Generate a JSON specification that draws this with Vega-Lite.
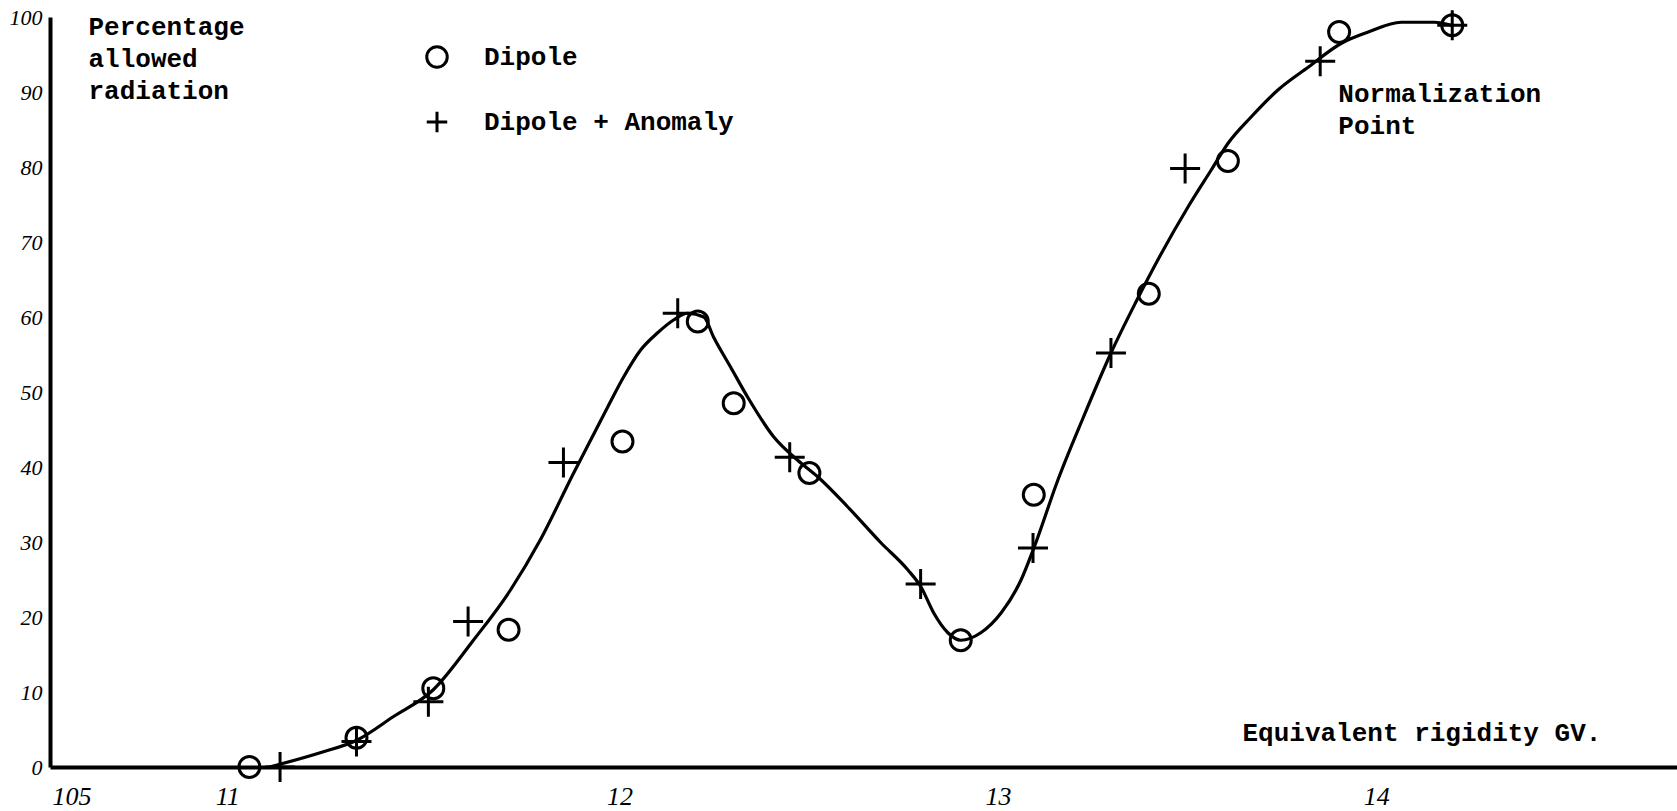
{
  "$schema": "https://vega.github.io/schema/vega-lite/v6.json",
  "width": 1627,
  "height": 750,
  "autosize": {"type": "none"},
  "padding": {"left": 50, "top": 17, "right": 0, "bottom": 44},
  "background": "white",
  "config": {
    "view": {"stroke": null},
    "font": "Liberation Mono"
  },
  "datasets": {
    "curve": [
      {"x": 11.08, "y": 0},
      {"x": 11.214, "y": 1.9},
      {"x": 11.312, "y": 3.6},
      {"x": 11.407, "y": 6.7},
      {"x": 11.513, "y": 10.3},
      {"x": 11.619, "y": 16.9},
      {"x": 11.717, "y": 23.6},
      {"x": 11.796, "y": 30.3},
      {"x": 11.884, "y": 39.2},
      {"x": 11.929, "y": 43.6},
      {"x": 11.974, "y": 48.0},
      {"x": 12.016, "y": 52.0},
      {"x": 12.061, "y": 55.6},
      {"x": 12.106, "y": 57.9},
      {"x": 12.148, "y": 59.6},
      {"x": 12.185, "y": 60.5},
      {"x": 12.228, "y": 60.0},
      {"x": 12.254, "y": 57.3},
      {"x": 12.299, "y": 53.3},
      {"x": 12.344, "y": 49.3},
      {"x": 12.413, "y": 44.0},
      {"x": 12.476, "y": 40.9},
      {"x": 12.529, "y": 38.7},
      {"x": 12.608, "y": 34.7},
      {"x": 12.696, "y": 29.9},
      {"x": 12.767, "y": 26.3},
      {"x": 12.802, "y": 24.0},
      {"x": 12.836, "y": 20.5},
      {"x": 12.873, "y": 17.9},
      {"x": 12.907, "y": 16.9},
      {"x": 12.96, "y": 17.9},
      {"x": 13.013, "y": 20.5},
      {"x": 13.066, "y": 24.9},
      {"x": 13.101, "y": 29.3},
      {"x": 13.164, "y": 38.3},
      {"x": 13.23, "y": 46.5},
      {"x": 13.304, "y": 55.2},
      {"x": 13.37, "y": 62.0},
      {"x": 13.431, "y": 67.9},
      {"x": 13.508, "y": 74.7},
      {"x": 13.569, "y": 79.6},
      {"x": 13.614, "y": 83.2},
      {"x": 13.675, "y": 86.7},
      {"x": 13.746, "y": 90.3},
      {"x": 13.825, "y": 93.3},
      {"x": 13.913, "y": 96.5},
      {"x": 13.984, "y": 98.0},
      {"x": 14.071, "y": 99.3},
      {"x": 14.159, "y": 99.3},
      {"x": 14.204, "y": 98.9}
    ],
    "points": [
      {"series": "Dipole", "x": 11.027, "y": 0},
      {"series": "Dipole", "x": 11.31, "y": 3.9},
      {"series": "Dipole", "x": 11.513, "y": 10.5},
      {"series": "Dipole", "x": 11.712, "y": 18.3},
      {"series": "Dipole", "x": 12.013, "y": 43.4},
      {"series": "Dipole", "x": 12.212, "y": 59.4},
      {"series": "Dipole", "x": 12.307, "y": 48.5},
      {"series": "Dipole", "x": 12.507, "y": 39.2},
      {"series": "Dipole", "x": 12.907, "y": 16.9},
      {"series": "Dipole", "x": 13.1, "y": 36.3},
      {"series": "Dipole", "x": 13.404, "y": 63.1},
      {"series": "Dipole", "x": 13.613, "y": 80.8},
      {"series": "Dipole", "x": 13.907, "y": 98.0},
      {"series": "Dipole", "x": 14.206, "y": 98.9},
      {"series": "Dipole + Anomaly", "x": 11.108, "y": 0},
      {"series": "Dipole + Anomaly", "x": 11.31, "y": 3.4},
      {"series": "Dipole + Anomaly", "x": 11.5, "y": 8.7},
      {"series": "Dipole + Anomaly", "x": 11.605, "y": 19.4},
      {"series": "Dipole + Anomaly", "x": 11.857, "y": 40.6},
      {"series": "Dipole + Anomaly", "x": 12.159, "y": 60.5},
      {"series": "Dipole + Anomaly", "x": 12.455, "y": 41.3},
      {"series": "Dipole + Anomaly", "x": 12.801, "y": 24.4},
      {"series": "Dipole + Anomaly", "x": 13.098, "y": 29.2},
      {"series": "Dipole + Anomaly", "x": 13.304, "y": 55.2},
      {"series": "Dipole + Anomaly", "x": 13.5, "y": 79.8},
      {"series": "Dipole + Anomaly", "x": 13.857, "y": 94.1},
      {"series": "Dipole + Anomaly", "x": 14.206, "y": 98.9}
    ],
    "yTicks": [
      {"v": 10}, {"v": 20}, {"v": 30}, {"v": 40}, {"v": 50},
      {"v": 60}, {"v": 70}, {"v": 80}, {"v": 90}, {"v": 100}
    ],
    "xTicks": [
      {"v": 12}, {"v": 13}, {"v": 14}
    ],
    "notes": [
      {"note": "Normalization\nPoint", "x": 13.905, "y": 91.5}
    ]
  },
  "encoding": {
    "x": {
      "field": "x",
      "type": "quantitative",
      "scale": {"domain": [10.5, 14.8], "nice": false, "zero": false},
      "axis": {
        "values": [10.5, 11, 12, 13, 14],
        "labelExpr": "datum.value == 10.5 ? '105' : format(datum.value, 'd')",
        "grid": false,
        "ticks": false,
        "domainColor": "black",
        "domainWidth": 4,
        "labelFont": "Liberation Serif",
        "labelFontStyle": "italic",
        "labelFontSize": 26,
        "labelColor": "black",
        "labelPadding": 16,
        "labelFlush": false,
        "labelOverlap": false,
        "labelBound": false,
        "labelAlign": {"condition": {"test": "datum.value == 10.5", "value": "left"}, "value": "center"},
        "labelOffset": {"condition": {"test": "datum.value == 11", "value": -12}, "value": 2},
        "title": "Equivalent rigidity GV.",
        "titleFont": "Liberation Mono",
        "titleFontSize": 26,
        "titleFontWeight": "bold",
        "titleColor": "black",
        "titleAlign": "left",
        "titleBaseline": "middle",
        "titleX": 1192,
        "titleY": -35
      }
    },
    "y": {
      "field": "y",
      "type": "quantitative",
      "scale": {"domain": [0, 100], "nice": false},
      "axis": {
        "values": [0, 10, 20, 30, 40, 50, 60, 70, 80, 90, 100],
        "grid": false,
        "ticks": false,
        "domainColor": "black",
        "domainWidth": 4,
        "labelFont": "Liberation Serif",
        "labelFontStyle": "italic",
        "labelFontSize": 22,
        "labelColor": "black",
        "labelPadding": 8,
        "labelFlush": false,
        "labelOverlap": false,
        "labelBound": false,
        "title": ["Percentage", "allowed", "radiation"],
        "titleFont": "Liberation Mono",
        "titleFontSize": 26,
        "titleFontWeight": "bold",
        "titleColor": "black",
        "titleAngle": 0,
        "titleAlign": "left",
        "titleBaseline": "top",
        "titleLineHeight": 32,
        "titleX": 38,
        "titleY": -4
      }
    }
  },
  "layer": [
    {
      "data": {"name": "yTicks"},
      "mark": {"type": "rule", "color": "black", "strokeWidth": 3.5},
      "encoding": {
        "y": {"field": "v", "type": "quantitative"},
        "x": {"datum": 10.5},
        "x2": {"datum": 10.5423}
      }
    },
    {
      "data": {"name": "xTicks"},
      "mark": {"type": "rule", "color": "black", "strokeWidth": 3},
      "encoding": {
        "x": {"field": "v", "type": "quantitative"},
        "y": {"datum": 0},
        "y2": {"datum": 2.3}
      }
    },
    {
      "data": {"name": "curve"},
      "mark": {"type": "line", "interpolate": "monotone", "color": "black", "strokeWidth": 3.2, "strokeCap": "round"}
    },
    {
      "data": {"name": "points"},
      "transform": [{"filter": "datum.series == 'Dipole'"}],
      "mark": {"type": "point", "filled": false, "size": 441, "strokeWidth": 3, "opacity": 1},
      "encoding": {
        "shape": {
          "field": "series",
          "type": "nominal",
          "scale": {"domain": ["Dipole", "Dipole + Anomaly"], "range": ["circle", "M-1,0H1M0,-1V1"]},
          "legend": {
            "orient": "none",
            "legendX": 374,
            "legendY": 27,
            "title": null,
            "symbolSize": 420,
            "symbolStrokeWidth": 3,
            "symbolStrokeColor": "black",
            "symbolFillColor": "transparent",
            "labelFont": "Liberation Mono",
            "labelFontSize": 26,
            "labelFontWeight": "bold",
            "labelColor": "black",
            "labelOffset": 34,
            "rowPadding": 31,
            "labelLimit": 0
          }
        },
        "color": {"value": "black"}
      }
    },
    {
      "data": {"name": "points"},
      "transform": [{"filter": "datum.series == 'Dipole + Anomaly'"}],
      "mark": {"type": "point", "filled": false, "size": 900, "strokeWidth": 3, "opacity": 1},
      "encoding": {
        "shape": {"field": "series", "type": "nominal"},
        "color": {"value": "black"}
      }
    },
    {
      "data": {"name": "notes"},
      "mark": {
        "type": "text",
        "align": "left",
        "baseline": "top",
        "font": "Liberation Mono",
        "fontSize": 26,
        "fontWeight": "bold",
        "lineHeight": 32,
        "lineBreak": "\n",
        "color": "black"
      },
      "encoding": {
        "text": {"field": "note", "type": "nominal"}
      }
    }
  ]
}
